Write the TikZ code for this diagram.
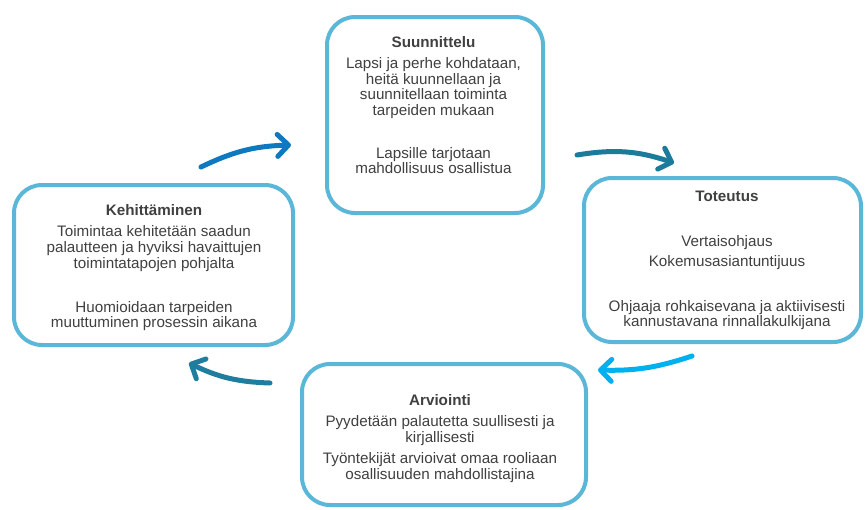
\documentclass[tikz,border=0pt]{standalone}
\usepackage{fontspec}
\setmainfont{Liberation Sans}
\usetikzlibrary{arrows.meta,shadows}
\definecolor{rim}{HTML}{5BB7D7}
\definecolor{ink}{HTML}{404040}
\definecolor{arrA}{HTML}{0C79C1}
\definecolor{arrB}{HTML}{1B7B9B}
\definecolor{arrC}{HTML}{00B0F0}
\definecolor{arrD}{HTML}{1F7E9E}

\begin{document}
\begin{tikzpicture}[x=1pt,y=-1pt,
  box/.style={draw=rim, line width=4pt, fill=white, rounded corners=28pt,
    drop shadow={shadow xshift=1.5pt, shadow yshift=-1.5pt, opacity=.35, fill=gray}},
  txt/.style={anchor=north, align=center, inner sep=0pt, text=ink,
    font=\fontsize{15.2}{15.7}\selectfont},
  arr/.style={line width=5pt, line cap=round,
    -{Straight Barb[length=11pt,width=22pt,round]}}]
  \useasboundingbox (0,0) rectangle (865,509);
  % boxes
  \node [box, minimum width=216pt, minimum height=196pt] (suun) at (435,115) {};
  \node [box, minimum width=277pt, minimum height=164pt] (tote) at (722.5,260) {};
  \node [box, minimum width=279pt, minimum height=160pt] (kehi) at (153.5,265) {};
  \node [box, minimum width=284pt, minimum height=141pt] (arvi) at (444,434.5) {};
  % texts
  \node [txt] (suuntxt) at (433.5,36) {{\bfseries Suunnittelu}\\[5.5pt]
    Lapsi ja perhe kohdataan,\\ heitä kuunnellaan ja\\ suunnitellaan toiminta\\
    tarpeiden mukaan\\[27pt] Lapsille tarjotaan\\ mahdollisuus osallistua};
  \node [txt] (totetxt) at (727,191) {{\bfseries Toteutus}\\[29pt]
    Vertaisohjaus\\[4.5pt] Kokemusasiantuntijuus\\[29pt]
    Ohjaaja rohkaisevana ja aktiivisesti\\ kannustavana rinnallakulkijana};
  \node [txt] (kehitxt) at (154,204) {{\bfseries Kehittäminen}\\[6pt]
    Toimintaa kehitetään saadun\\ palautteen ja hyviksi havaittujen\\
    toimintatapojen pohjalta\\[28pt] Huomioidaan tarpeiden\\
    muuttuminen prosessin aikana};
  \node [txt] (arvitxt) at (440,394) {{\bfseries Arviointi}\\[6pt]
    Pyydetään palautetta suullisesti ja\\ kirjallisesti\\[5pt]
    Työntekijät arvioivat omaa rooliaan\\ osallisuuden mahdollistajina};
  % arrows
  \coordinate (s1) at (201,167); \coordinate (e1) at (291,145);
  \coordinate (s2) at (577,155); \coordinate (e2) at (674,163);
  \coordinate (s3) at (692,356); \coordinate (e3) at (598,370);
  \coordinate (s4) at (270,383); \coordinate (e4) at (189,363);
  \draw [arr, arrA] (s1) to [bend left=12] (e1);
  \draw [arr, arrB] (s2) to [bend left=14] (e2);
  \draw [arr, arrC] (s3) to [bend left=10] (e3);
  \draw [arr, arrD] (s4) to [bend left=12] (e4);
\end{tikzpicture}
\end{document}
